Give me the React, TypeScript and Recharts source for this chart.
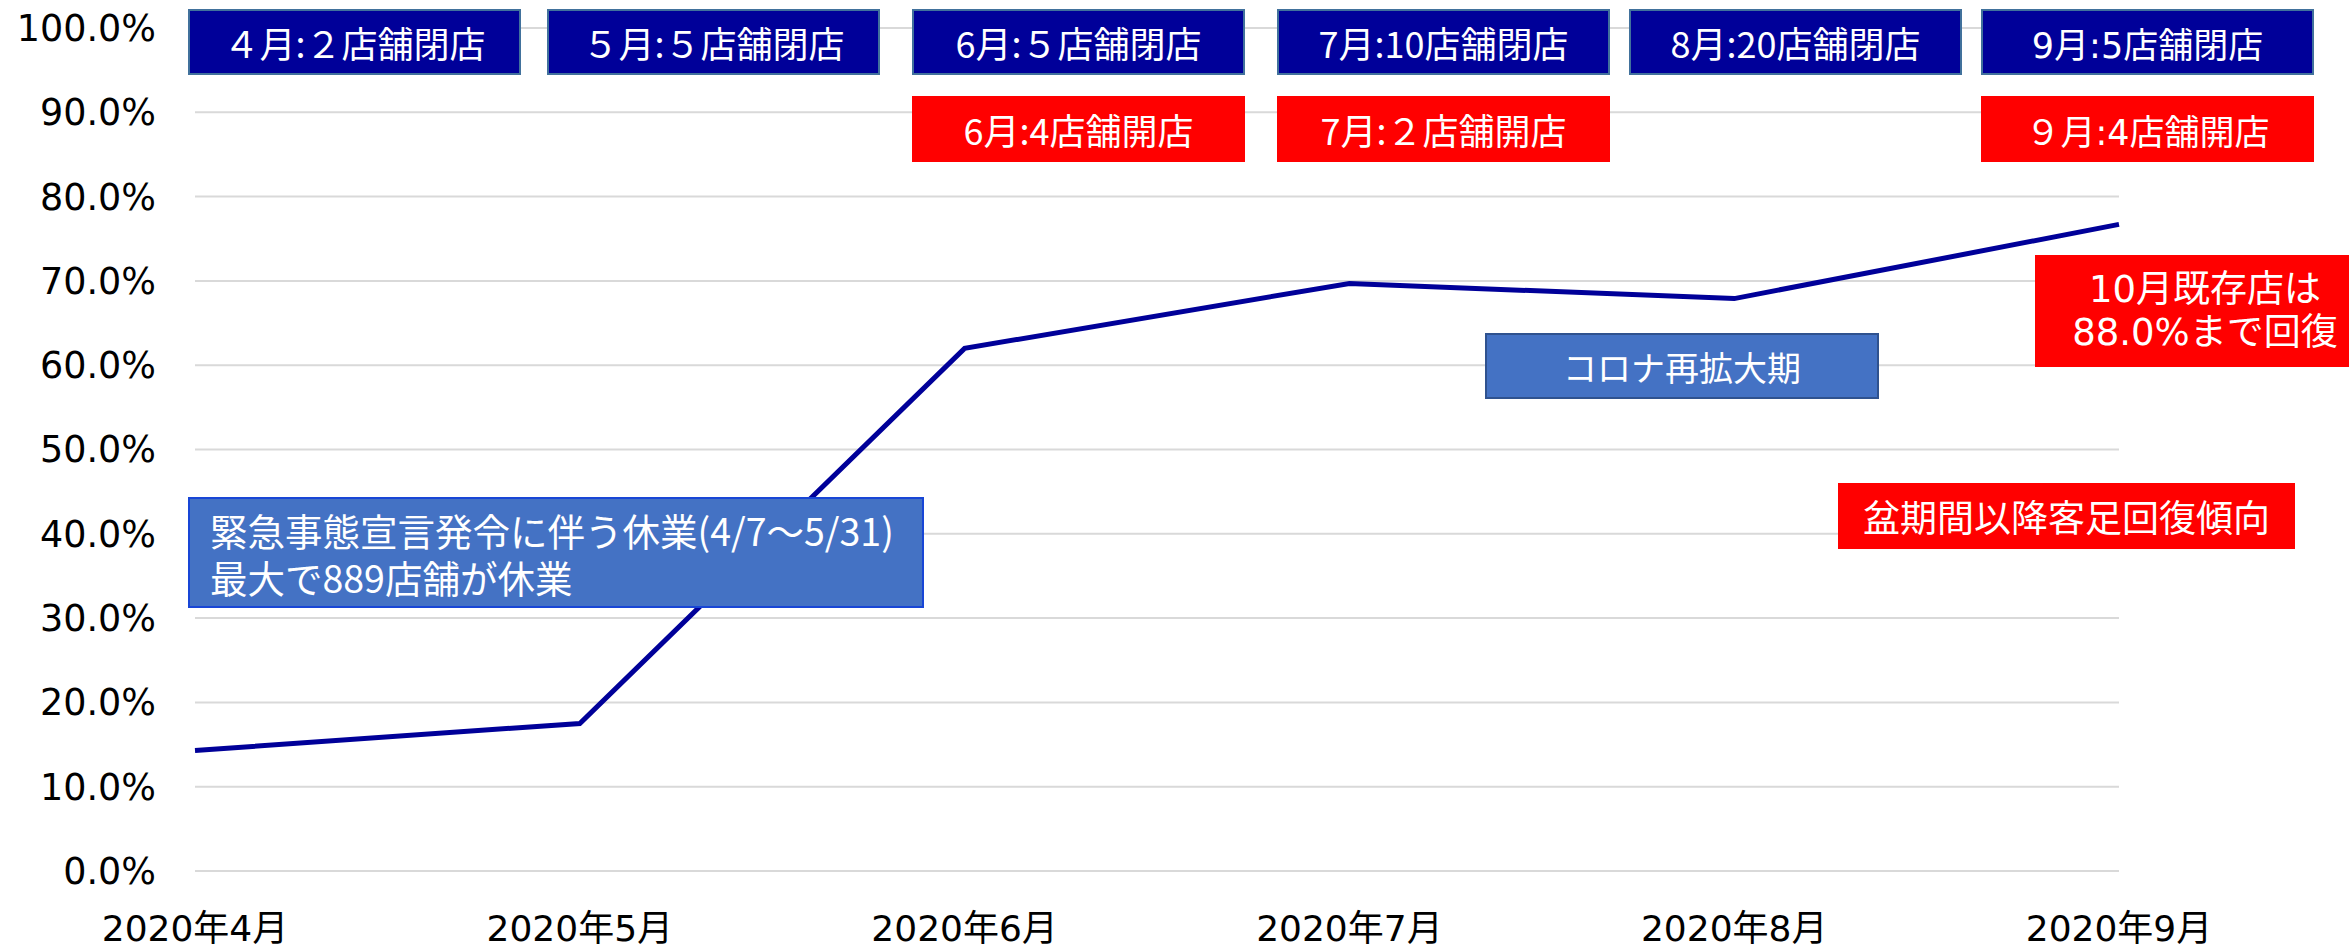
import React from 'react';
import { LineChart, Line, XAxis, YAxis, CartesianGrid } from 'recharts';

// ---- data ----
const months = ['2020年4月', '2020年5月', '2020年6月', '2020年7月', '2020年8月', '2020年9月'];
const salesRatio = [14.3, 17.5, 62.0, 69.7, 67.9, 76.7];
const yTicks = [0, 10, 20, 30, 40, 50, 60, 70, 80, 90, 100];

const closureNotes = ['４月:２店舗閉店', '５月:５店舗閉店', '6月:５店舗閉店', '7月:10店舗閉店', '8月:20店舗閉店', '9月:5店舗閉店'];
const openingNotes = ['6月:4店舗開店', '7月:２店舗開店', '９月:4店舗開店'];
const calloutNotes = [
  'コロナ再拡大期',
  '10月既存店は\n88.0%まで回復',
  '盆期間以降客足回復傾向',
  '緊急事態宣言発令に伴う休業(4/7～5/31)\n最大で889店舗が休業',
];

// ---- layout / styles (kept separate from data) ----
const LATIN = "'DejaVu Sans', 'Noto Sans CJK JP', sans-serif";
const CJK = "'Noto Sans CJK JP', sans-serif";

const closureBoxes = [
  { left: 188, font: CJK, size: 36 },
  { left: 547, font: CJK, size: 36 },
  { left: 912, font: CJK, size: 36 },
  { left: 1277, font: CJK, size: 36 },
  { left: 1629, font: CJK, size: 36 },
  { left: 1981, font: LATIN, size: 35 },
];
const openingBoxes = [
  { left: 912, font: CJK, size: 36 },
  { left: 1277, font: CJK, size: 36 },
  { left: 1981, font: LATIN, size: 35 },
];

const data = months.map((m, i) => ({ month: m, value: salesRatio[i] }));

const baseBox: React.CSSProperties = {
  position: 'absolute',
  boxSizing: 'border-box',
  display: 'flex',
  alignItems: 'center',
  justifyContent: 'center',
  color: '#FFFFFF',
  whiteSpace: 'pre',
  textAlign: 'center',
};

export default function App() {
  return (
    <div
      style={{
        position: 'absolute',
        left: 0,
        top: 0,
        width: 2349,
        height: 948,
        overflow: 'hidden',
        background: '#FFFFFF',
      }}
    >
      <LineChart
        width={2349}
        height={948}
        data={data}
        margin={{ top: 28, right: 230, bottom: 17, left: 0 }}
      >
        <CartesianGrid vertical={false} stroke="#D9D9D9" strokeWidth={2} />
        <XAxis
          dataKey="month"
          axisLine={false}
          tickLine={false}
          tickSize={0}
          tickMargin={44}
          height={60}
          interval={0}
          tick={{ fontSize: 36, fill: '#000000', fontFamily: LATIN }}
        />
        <YAxis
          domain={[0, 100]}
          ticks={yTicks}
          tickFormatter={(v: number) => v.toFixed(1) + '%'}
          axisLine={false}
          tickLine={false}
          tickSize={0}
          tickMargin={39}
          width={195}
          interval={0}
          tick={{ fontSize: 36.5, fill: '#000000', fontFamily: LATIN }}
        />
        <Line
          type="linear"
          dataKey="value"
          stroke="#000099"
          strokeWidth={5}
          dot={false}
          activeDot={false}
          isAnimationActive={false}
        />
      </LineChart>

      {closureNotes.map((t, i) => (
        <div
          key={'c' + i}
          style={{
            ...baseBox,
            left: closureBoxes[i].left,
            top: 9,
            width: 333,
            height: 66,
            background: '#000099',
            border: '2px solid #41719C',
            fontFamily: closureBoxes[i].font,
            fontSize: closureBoxes[i].size,
          }}
        >
          {t}
        </div>
      ))}

      {openingNotes.map((t, i) => (
        <div
          key={'o' + i}
          style={{
            ...baseBox,
            left: openingBoxes[i].left,
            top: 96,
            width: 333,
            height: 66,
            background: '#FF0000',
            fontFamily: openingBoxes[i].font,
            fontSize: openingBoxes[i].size,
          }}
        >
          {t}
        </div>
      ))}

      <div
        style={{
          ...baseBox,
          left: 1485,
          top: 333,
          width: 394,
          height: 66,
          background: '#4472C4',
          border: '2px solid #2F528F',
          fontFamily: CJK,
          fontSize: 34,
        }}
      >
        {calloutNotes[0]}
      </div>

      <div
        style={{
          ...baseBox,
          left: 2035,
          top: 255,
          width: 340,
          height: 112,
          background: '#FF0000',
          fontFamily: LATIN,
          fontSize: 37,
          lineHeight: '43px',
        }}
      >
        {calloutNotes[1]}
      </div>

      <div
        style={{
          ...baseBox,
          left: 1838,
          top: 483,
          width: 457,
          height: 66,
          background: '#FF0000',
          fontFamily: CJK,
          fontSize: 37,
        }}
      >
        {calloutNotes[2]}
      </div>

      <div
        style={{
          ...baseBox,
          left: 188,
          top: 497,
          width: 736,
          height: 111,
          background: '#4472C4',
          border: '2px solid #1846D6',
          fontFamily: CJK,
          fontSize: 37.5,
          lineHeight: '47px',
          justifyContent: 'flex-start',
          textAlign: 'left',
          paddingLeft: 20,
        }}
      >
        {calloutNotes[3]}
      </div>
    </div>
  );
}
